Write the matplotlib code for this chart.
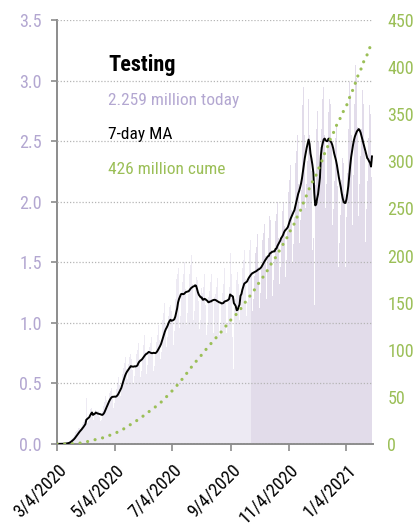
import matplotlib
matplotlib.use("Agg")
import matplotlib.pyplot as plt
from matplotlib import font_manager
import pandas as pd

# daily tests (millions), one row per week starting Wed 3/4/2020
daily_tests = [
    0.001, 0.001, 0.002, 0.002, 0.001, 0.002, 0.004,
    0.004, 0.005, 0.007, 0.008, 0.009, 0.014, 0.023,
    0.032, 0.041, 0.052, 0.058, 0.060, 0.078, 0.099,
    0.105, 0.118, 0.130, 0.128, 0.120, 0.142, 0.167,
    0.18, 0.20, 0.21, 0.38, 0.17, 0.19, 0.21,
    0.29, 0.30, 0.28, 0.24, 0.20, 0.23, 0.28,
    0.26, 0.27, 0.27, 0.22, 0.19, 0.20, 0.27,
    0.31, 0.35, 0.40, 0.36, 0.30, 0.33, 0.40,
    0.42, 0.44, 0.46, 0.38, 0.30, 0.34, 0.39,
    0.45, 0.50, 0.55, 0.49, 0.40, 0.46, 0.58,
    0.63, 0.67, 0.72, 0.62, 0.50, 0.54, 0.66,
    0.72, 0.74, 0.70, 0.61, 0.50, 0.56, 0.65,
    0.74, 0.78, 0.83, 0.70, 0.55, 0.60, 0.70,
    0.82, 0.86, 0.90, 0.76, 0.58, 0.65, 0.75,
    0.80, 0.83, 0.88, 0.76, 0.60, 0.64, 0.74,
    0.84, 0.90, 0.98, 0.86, 0.70, 0.76, 0.91,
    1.02, 1.08, 1.16, 1.00, 0.80, 0.88, 1.06,
    1.13, 1.15, 1.10, 1.02, 0.82, 0.93, 1.20,
    1.36, 1.40, 1.45, 1.22, 0.96, 1.06, 1.23,
    1.34, 1.40, 1.50, 1.28, 0.98, 1.08, 1.24,
    1.40, 1.48, 1.56, 1.32, 1.02, 1.10, 1.29,
    1.38, 1.30, 1.35, 1.18, 0.95, 1.02, 1.29,
    1.25, 1.30, 1.40, 1.15, 0.90, 0.98, 1.21,
    1.26, 1.34, 1.40, 1.20, 0.92, 1.00, 1.21,
    1.24, 1.30, 1.37, 1.16, 0.90, 0.98, 1.17,
    1.25, 1.32, 1.45, 1.18, 0.92, 1.00, 1.21,
    1.30, 1.58, 1.40, 1.15, 0.88, 0.62, 1.13,
    1.20, 1.35, 1.42, 1.32, 1.02, 1.12, 1.24,
    1.45, 1.52, 1.60, 1.36, 1.06, 1.17, 1.36,
    1.55, 1.60, 1.68, 1.42, 1.10, 1.20, 1.39,
    1.58, 1.63, 1.73, 1.46, 1.12, 1.25, 1.45,
    1.68, 1.74, 1.82, 1.55, 1.20, 1.33, 1.53,
    1.70, 1.88, 1.85, 1.60, 1.22, 1.35, 1.53,
    1.84, 1.90, 2.00, 1.70, 1.32, 1.46, 1.68,
    1.92, 2.00, 2.15, 1.80, 1.38, 1.52, 1.76,
    2.08, 2.18, 2.30, 1.93, 1.50, 1.65, 1.87,
    2.32, 2.42, 2.55, 2.15, 1.66, 1.85, 2.10,
    2.62, 2.80, 2.95, 2.55, 1.95, 2.15, 2.34,
    2.85, 2.55, 2.40, 2.25, 1.60, 1.70, 1.15,
    2.14, 2.60, 2.75, 2.50, 2.05, 2.20, 2.45,
    2.60, 2.85, 2.95, 2.55, 1.95, 2.15, 2.45,
    2.74, 2.85, 2.81, 2.48, 1.81, 1.94, 2.17,
    2.53, 2.64, 2.53, 2.13, 1.46, 1.66, 1.89,
    2.18, 2.36, 2.32, 2.06, 1.46, 1.87, 2.24,
    2.60, 2.99, 2.88, 2.55, 1.81, 2.22, 2.52,
    2.81, 3.13, 3.02, 2.62, 1.88, 2.15, 2.38,
    2.60, 2.92, 2.81, 2.41, 1.67, 1.94, 2.17,
    2.53, 2.80, 2.72, 2.20, 2.259,
]
start_date = "2020-03-04"
tick_dates = ["2020-03-04", "2020-05-04", "2020-07-04", "2020-09-04", "2020-11-04", "2021-01-04"]
tick_labels = ["3/4/2020", "5/4/2020", "7/4/2020", "9/4/2020", "11/4/2020", "1/4/2021"]
left_ticks = [0.0, 0.5, 1.0, 1.5, 2.0, 2.5, 3.0, 3.5]
right_ticks = [0, 50, 100, 150, 200, 250, 300, 350, 400, 450]
shade_from = "2020-09-26"

PURPLE = "#b3a7d1"
GREEN = "#9bbf57"
GREY = "#8c8c8c"

# look for a condensed face; fall back to Liberation Sans
names = {(f.name, f.stretch) for f in font_manager.fontManager.ttflist}
narrow = None
for fam in ["Liberation Sans Narrow", "DejaVu Sans Condensed", "Roboto Condensed",
            "Open Sans Condensed", "Noto Sans Condensed"]:
    if any(n == fam for n, _ in names):
        narrow = fam
        break
if narrow is None and ("DejaVu Sans", "condensed") in names:
    narrow = "DejaVu Sans"
    plt.rcParams["font.stretch"] = "condensed"

if narrow:
    plt.rcParams["font.family"] = [narrow, "DejaVu Sans"]
    fs_title, fs_sub, fs_y, fs_x = 16, 12.5, 13, 13
else:
    plt.rcParams["font.family"] = ["Liberation Sans", "DejaVu Sans"]
    fs_title, fs_sub, fs_y, fs_x = 14, 11.2, 11.5, 11.5

dates = pd.date_range(start_date, periods=len(daily_tests), freq="D")
s = pd.Series(daily_tests, index=dates)
ma7 = s.rolling(7, min_periods=1).mean()
cume = s.cumsum()

fig = plt.figure(figsize=(4.14, 5.27), dpi=100)
ax = fig.add_axes([57 / 414, 83 / 527, 316.3 / 414, 424 / 527])
ax2 = ax.twinx()

bar_colors = ["#edeaf3" if d < pd.Timestamp(shade_from) else "#e2dcea" for d in dates]
ax.bar(dates, s.values, width=1.0, color=bar_colors, linewidth=0, zorder=1)
ax.plot(dates, ma7.values, color="black", lw=1.4, zorder=4)
ax2.plot(dates, cume.values, color=GREEN, lw=2.3,
         linestyle=(0, (0.01, 2.4)), dash_capstyle="round")

ax.set_ylim(0, 3.5)
ax2.set_ylim(0, 450)
ax.set_xlim(pd.Timestamp(start_date), pd.Timestamp(start_date) + pd.Timedelta(days=334.4))

ax.set_yticks(left_ticks)
ax.set_yticklabels([f"{v:.1f}" for v in left_ticks], color=PURPLE, fontsize=fs_y)
ax2.set_yticks(right_ticks)
ax2.set_yticklabels([str(v) for v in right_ticks], color=GREEN, fontsize=fs_y)

ax.set_xticks(pd.to_datetime(tick_dates))
ax.set_xticklabels(tick_labels, rotation=45, ha="right", va="top",
                   rotation_mode="anchor", fontsize=fs_x)

ax.yaxis.grid(True, linestyle=(0, (1, 1.5)), color="#b5b5b5", lw=0.9)
ax.set_axisbelow(False)

for sp in ["top", "right"]:
    ax.spines[sp].set_visible(False)
for sp in ["top", "right", "left", "bottom"]:
    ax2.spines[sp].set_visible(False)
for sp in ["left", "bottom"]:
    ax.spines[sp].set_color(GREY)
    ax.spines[sp].set_linewidth(1.4)
ax.tick_params(axis="y", length=4, width=1.2, color=GREY, pad=7)
ax.tick_params(axis="x", length=5, width=1.2, color=GREY, pad=7)
ax2.tick_params(axis="y", length=0, pad=10)

tx = 108 / 414
fig.text(tx, 1 - 71 / 527, "Testing", fontsize=fs_title, fontweight="bold", va="baseline")
fig.text(tx, 1 - 104.5 / 527, "2.259 million today", fontsize=fs_sub, color=PURPLE, va="baseline")
fig.text(tx, 1 - 139.5 / 527, "7-day MA", fontsize=fs_sub, color="black", va="baseline")
fig.text(tx, 1 - 174 / 527, "426 million cume", fontsize=fs_sub, color=GREEN, va="baseline")

fig.savefig("out.png", dpi=100)
